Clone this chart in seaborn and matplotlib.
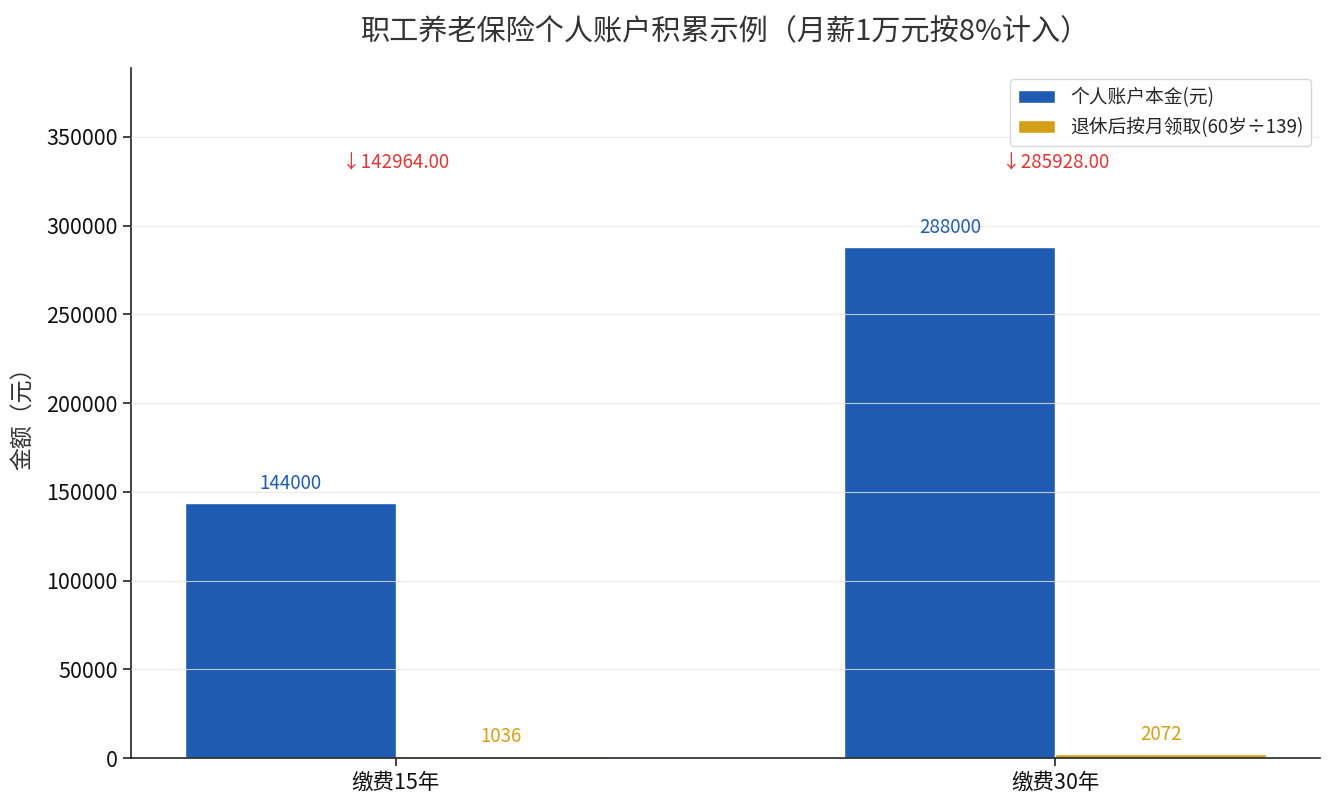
import pandas as pd
import matplotlib
matplotlib.use('Agg')
import matplotlib.pyplot as plt
import seaborn as sns

# 数据
groups = ['缴费15年', '缴费30年']
principal = [144000, 288000]
monthly = [1036, 2072]
series_names = ['个人账户本金(元)', '退休后按月领取(60岁÷139)']
colors = ['#1f5bb0', '#d4a017']

sns.set_theme(style='white')
plt.rcParams['font.family'] = ['Noto Sans CJK SC', 'DejaVu Sans']
plt.rcParams['axes.unicode_minus'] = False

df = pd.DataFrame({
    'group': groups * 2,
    'series': [series_names[0]] * 2 + [series_names[1]] * 2,
    'value': principal + monthly,
})

fig, ax = plt.subplots(figsize=(13.35, 8.1), dpi=100)
sns.barplot(data=df, x='group', y='value', hue='series', palette=colors,
            width=0.64, gap=0, saturation=1, ax=ax, errorbar=None)

ymax = max(principal) * 1.35
ax.set_ylim(0, ymax)
ax.set_xlim(-0.402, 1.402)

# 数值标签
for cont, col in zip(ax.containers, colors):
    for bar in cont:
        h = bar.get_height()
        ax.annotate(f'{int(h)}', (bar.get_x() + bar.get_width() / 2, h),
                    xytext=(0, 6.5), textcoords='offset points',
                    ha='center', va='bottom', fontsize=13.5, color=col)

# 差值标注
for i, (p, m) in enumerate(zip(principal, monthly)):
    ax.text(i, ymax * 0.862, f'↓{p - m:.2f}', ha='center', va='center',
            fontsize=13.5, color='#e03535')

ax.grid(axis='y', color='#e6e6e6', linewidth=0.8, alpha=0.8)
ax.set_axisbelow(False)
sns.despine(ax=ax)
ax.spines['left'].set_color('#222222')
ax.spines['bottom'].set_color('#222222')
ax.spines['left'].set_linewidth(1.2)
ax.spines['bottom'].set_linewidth(1.2)
ax.tick_params(axis='both', which='major', length=6, width=1.2, color='#222222',
               labelsize=15.5, bottom=True, left=True, labelcolor='#111111')
ax.ticklabel_format(axis='y', style='plain')

ax.set_xlabel('')
ax.set_ylabel('金额（元）', fontsize=16.5, color='#333333', labelpad=8)
ax.set_title('职工养老保险个人账户积累示例（月薪1万元按8%计入）', fontsize=21,
             color='#333333', pad=20)
ax.legend(loc='upper right', fontsize=13.5, frameon=True, edgecolor='#cccccc',
          fancybox=True, bbox_to_anchor=(1.0, 0.997))

plt.subplots_adjust(left=0.098, right=0.989, top=0.916, bottom=0.064)
plt.savefig('out.png', dpi=100)
